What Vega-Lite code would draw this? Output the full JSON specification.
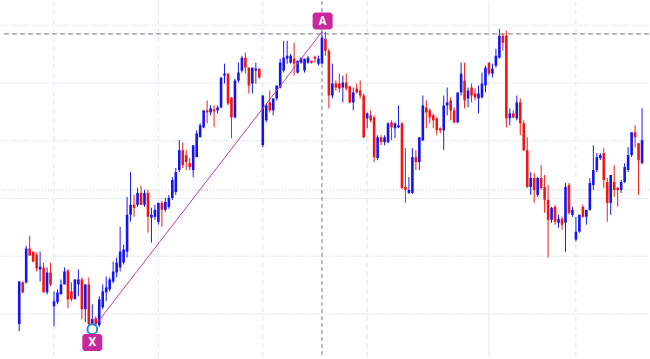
{
  "$schema": "https://vega.github.io/schema/vega-lite/v6.json",
  "width": 650,
  "height": 359,
  "padding": 0,
  "autosize": {"type": "fit", "contains": "padding"},
  "background": "#ffffff",
  "config": {"view": {"stroke": null}, "scale": {"continuousPadding": 0}},
  "datasets": {
    "candles": [
      {"i":0,"o":35,"h":78,"l":28,"c":78},{"i":1,"o":77,"h":78,"l":66,"c":67},{"i":2,"o":77,"h":114,"l":76,"c":111},{"i":3,"o":111,"h":124,"l":104,"c":104},
      {"i":4,"o":108,"h":108,"l":97,"c":98},{"i":5,"o":105,"h":107,"l":88,"c":91},{"i":6,"o":90,"h":108,"l":78,"c":93},{"i":7,"o":92,"h":97,"l":67,"c":67},
      {"i":8,"o":67,"h":92,"l":65,"c":87},{"i":9,"o":87,"h":97,"l":73,"c":75},{"i":10,"o":53,"h":68,"l":33,"c":58},{"i":11,"o":57,"h":70,"l":55,"c":67},
      {"i":12,"o":65,"h":80,"l":65,"c":75},{"i":13,"o":75,"h":92,"l":75,"c":88},{"i":14,"o":89,"h":90,"l":51,"c":60},{"i":15,"o":68,"h":77,"l":58,"c":60},
      {"i":16,"o":60,"h":80,"l":60,"c":80},{"i":17,"o":75,"h":90,"l":63,"c":80},{"i":18,"o":80,"h":82,"l":40,"c":50},{"i":19,"o":50,"h":75,"l":37,"c":75},
      {"i":20,"o":75,"h":82,"l":33,"c":35},{"i":21,"o":33,"h":55,"l":30,"c":40},{"i":22,"o":41,"h":43,"l":34,"c":35},{"i":23,"o":34,"h":63,"l":32,"c":60},
      {"i":24,"o":52,"h":75,"l":50,"c":68},{"i":25,"o":67,"h":83,"l":58,"c":72},{"i":26,"o":70,"h":82,"l":68,"c":80},{"i":27,"o":78,"h":98,"l":76,"c":88},
      {"i":28,"o":87,"h":102,"l":82,"c":97},{"i":29,"o":92,"h":133,"l":88,"c":108},{"i":30,"o":97,"h":115,"l":95,"c":110},{"i":31,"o":108,"h":163,"l":102,"c":145},
      {"i":32,"o":145,"h":188,"l":138,"c":155},{"i":33,"o":155,"h":165,"l":143,"c":152},{"i":34,"o":155,"h":172,"l":153,"c":167},{"i":35,"o":167,"h":174,"l":155,"c":155},
      {"i":36,"o":155,"h":170,"l":153,"c":167},{"i":37,"o":167,"h":170,"l":127,"c":143},{"i":38,"o":142,"h":152,"l":117,"c":145},{"i":39,"o":143,"h":155,"l":140,"c":150},
      {"i":40,"o":138,"h":157,"l":135,"c":157},{"i":41,"o":157,"h":159,"l":133,"c":150},{"i":42,"o":150,"h":162,"l":148,"c":158},{"i":43,"o":153,"h":165,"l":151,"c":162},
      {"i":44,"o":162,"h":183,"l":160,"c":180},{"i":45,"o":168,"h":192,"l":165,"c":188},{"i":46,"o":190,"h":220,"l":188,"c":210},{"i":47,"o":210,"h":218,"l":192,"c":195},
      {"i":48,"o":205,"h":210,"l":190,"c":198},{"i":49,"o":197,"h":202,"l":190,"c":193},{"i":50,"o":190,"h":215,"l":183,"c":215},{"i":51,"o":203,"h":230,"l":203,"c":227},
      {"i":52,"o":223,"h":237,"l":223,"c":235},{"i":53,"o":233,"h":250,"l":232,"c":250},{"i":54,"o":250,"h":260,"l":237,"c":248},{"i":55,"o":248,"h":255,"l":245,"c":252},
      {"i":56,"o":251,"h":255,"l":233,"c":249},{"i":57,"o":250,"h":255,"l":247,"c":253},{"i":58,"o":253,"h":283,"l":252,"c":283},{"i":59,"o":285,"h":297,"l":277,"c":287},
      {"i":60,"o":287,"h":287,"l":255,"c":257},{"i":61,"o":263,"h":263,"l":222,"c":243},{"i":62,"o":243,"h":282,"l":242,"c":280},{"i":63,"o":280,"h":298,"l":278,"c":288},
      {"i":64,"o":290,"h":305,"l":288,"c":303},{"i":65,"o":303,"h":308,"l":287,"c":293},{"i":66,"o":293,"h":293,"l":267,"c":275},{"i":67,"o":277,"h":293,"l":267,"c":293},
      {"i":68,"o":290,"h":298,"l":277,"c":292},{"i":69,"o":292,"h":292,"l":282,"c":283},{"i":70,"o":215,"h":265,"l":213,"c":265},{"i":71,"o":240,"h":257,"l":238,"c":255},
      {"i":72,"o":258,"h":270,"l":248,"c":250},{"i":73,"o":250,"h":262,"l":245,"c":262},{"i":74,"o":262,"h":275,"l":260,"c":275},{"i":75,"o":273,"h":302,"l":272,"c":298},
      {"i":76,"o":290,"h":320,"l":288,"c":303},{"i":77,"o":302,"h":320,"l":297,"c":305},{"i":78,"o":298,"h":307,"l":297,"c":305},{"i":79,"o":302,"h":318,"l":285,"c":297},
      {"i":80,"o":288,"h":300,"l":287,"c":300},{"i":81,"o":298,"h":303,"l":297,"c":303},{"i":82,"o":290,"h":302,"l":288,"c":302},{"i":83,"o":298,"h":305,"l":297,"c":303},
      {"i":84,"o":300,"h":300,"l":297,"c":298},{"i":85,"o":304,"h":305,"l":298,"c":302},{"i":86,"o":297,"h":305,"l":295,"c":302},{"i":87,"o":297,"h":329,"l":297,"c":323},
      {"i":88,"o":322,"h":329,"l":305,"c":310},{"i":89,"o":310,"h":312,"l":252,"c":265},{"i":90,"o":265,"h":297,"l":262,"c":277},{"i":91,"o":277,"h":280,"l":270,"c":273},
      {"i":92,"o":277,"h":287,"l":268,"c":272},{"i":93,"o":273,"h":285,"l":258,"c":278},{"i":94,"o":278,"h":287,"l":270,"c":272},{"i":95,"o":274,"h":275,"l":257,"c":258},
      {"i":96,"o":258,"h":273,"l":250,"c":268},{"i":97,"o":272,"h":277,"l":267,"c":268},{"i":98,"o":270,"h":280,"l":262,"c":265},{"i":99,"o":265,"h":267,"l":222,"c":223},
      {"i":100,"o":242,"h":248,"l":232,"c":247},{"i":101,"o":245,"h":250,"l":238,"c":240},{"i":102,"o":243,"h":245,"l":198,"c":203},{"i":103,"o":202,"h":225,"l":200,"c":223},
      {"i":104,"o":223,"h":225,"l":215,"c":218},{"i":105,"o":218,"h":225,"l":215,"c":223},{"i":106,"o":218,"h":238,"l":217,"c":237},{"i":107,"o":238,"h":240,"l":220,"c":233},
      {"i":108,"o":232,"h":238,"l":222,"c":237},{"i":109,"o":233,"h":255,"l":232,"c":235},{"i":110,"o":237,"h":238,"l":171,"c":172},{"i":111,"o":173,"h":212,"l":157,"c":170},
      {"i":112,"o":167,"h":183,"l":166,"c":170},{"i":113,"o":167,"h":212,"l":166,"c":203},{"i":114,"o":203,"h":210,"l":190,"c":198},{"i":115,"o":198,"h":223,"l":190,"c":223},
      {"i":116,"o":220,"h":265,"l":219,"c":255},{"i":117,"o":253,"h":260,"l":232,"c":248},{"i":118,"o":250,"h":252,"l":237,"c":243},{"i":119,"o":245,"h":247,"l":232,"c":240},
      {"i":120,"o":242,"h":243,"l":225,"c":230},{"i":121,"o":232,"h":233,"l":227,"c":230},{"i":122,"o":230,"h":265,"l":210,"c":255},{"i":123,"o":255,"h":273,"l":245,"c":258},
      {"i":124,"o":260,"h":263,"l":240,"c":250},{"i":125,"o":250,"h":253,"l":237,"c":238},{"i":126,"o":238,"h":268,"l":237,"c":268},{"i":127,"o":268,"h":298,"l":265,"c":287},
      {"i":128,"o":280,"h":298,"l":252,"c":260},{"i":129,"o":262,"h":273,"l":253,"c":270},{"i":130,"o":273,"h":277,"l":258,"c":265},{"i":131,"o":267,"h":272,"l":260,"c":263},
      {"i":132,"o":262,"h":275,"l":247,"c":267},{"i":133,"o":263,"h":288,"l":262,"c":277},{"i":134,"o":275,"h":295,"l":268,"c":293},{"i":135,"o":298,"h":298,"l":285,"c":287},
      {"i":136,"o":287,"h":297,"l":283,"c":292},{"i":137,"o":295,"h":312,"l":293,"c":305},{"i":138,"o":303,"h":332,"l":302,"c":325},{"i":139,"o":325,"h":327,"l":310,"c":318},
      {"i":140,"o":325,"h":330,"l":233,"c":242},{"i":141,"o":242,"h":252,"l":235,"c":247},{"i":142,"o":247,"h":250,"l":242,"c":243},{"i":143,"o":242,"h":265,"l":240,"c":258},
      {"i":144,"o":258,"h":262,"l":225,"c":237},{"i":145,"o":237,"h":240,"l":209,"c":210},{"i":146,"o":210,"h":223,"l":172,"c":173},{"i":147,"o":173,"h":188,"l":165,"c":182},
      {"i":148,"o":182,"h":187,"l":157,"c":170},{"i":149,"o":165,"h":183,"l":163,"c":182},{"i":150,"o":182,"h":195,"l":170,"c":172},{"i":151,"o":173,"h":185,"l":147,"c":160},
      {"i":152,"o":160,"h":175,"l":102,"c":140},{"i":153,"o":140,"h":153,"l":137,"c":152},{"i":154,"o":153,"h":155,"l":135,"c":138},{"i":155,"o":137,"h":145,"l":132,"c":141},
      {"i":156,"o":141,"h":143,"l":130,"c":135},{"i":157,"o":137,"h":177,"l":108,"c":173},{"i":158,"o":175,"h":177,"l":145,"c":147},{"i":159,"o":145,"h":153,"l":143,"c":150},
      {"i":160,"o":120,"h":143,"l":118,"c":128},{"i":161,"o":128,"h":145,"l":127,"c":145},{"i":162,"o":153,"h":155,"l":142,"c":143},{"i":163,"o":143,"h":150,"l":135,"c":150},
      {"i":164,"o":150,"h":182,"l":149,"c":177},{"i":165,"o":175,"h":215,"l":170,"c":190},{"i":166,"o":190,"h":207,"l":188,"c":203},{"i":167,"o":202,"h":207,"l":200,"c":205},
      {"i":168,"o":207,"h":212,"l":172,"c":180},{"i":169,"o":178,"h":182,"l":138,"c":157},{"i":170,"o":157,"h":185,"l":145,"c":185},{"i":171,"o":178,"h":195,"l":163,"c":170},
      {"i":172,"o":172,"h":173,"l":153,"c":170},{"i":173,"o":170,"h":180,"l":167,"c":178},{"i":174,"o":178,"h":197,"l":177,"c":193},{"i":175,"o":190,"h":213,"l":188,"c":205},
      {"i":176,"o":205,"h":228,"l":203,"c":228},{"i":177,"o":228,"h":235,"l":213,"c":223},{"i":178,"o":217,"h":217,"l":165,"c":200},{"i":179,"o":197,"h":252,"l":196,"c":220}
    ],
    "hgrid": [{"p":335.7},{"p":277.6},{"p":219.5},{"p":161.4},{"p":103.4},{"p":45.3}],
    "vgrid": [{"i":10},{"i":40},{"i":70},{"i":100},{"i":160}],
    "session": [{"i":135}],
    "dotted": [{"p":170}],
    "levelA": [{"p":327}],
    "vertA": [{"i":87}],
    "xa": [{"pt":"X","i":21,"p":30},{"pt":"A","i":87,"p":329}],
    "xpoint": [{"pt":"X","i":21,"p":30}],
    "labels": [{"pt":"X","i":21,"p":16.7},{"pt":"A","i":87.2,"p":340}]
  },
  "layer": [
    {
      "data": {"name": "hgrid"},
      "mark": {"type": "rule", "color": "#e6edf4", "strokeWidth": 1, "strokeDash": [18, 2]},
      "encoding": {"y": {"field": "p", "type": "quantitative", "scale": {"domain": [1, 360], "nice": false, "zero": false, "padding": 0}, "axis": null}}
    },
    {
      "data": {"name": "vgrid"},
      "mark": {"type": "rule", "color": "#dde6ef", "strokeWidth": 1, "strokeDash": [5, 4]},
      "encoding": {"x": {"field": "i", "type": "quantitative", "scale": {"domain": [-5.24, 181], "nice": false, "zero": false, "padding": 0}, "axis": null}}
    },
    {
      "data": {"name": "session"},
      "mark": {"type": "rule", "color": "#e3ebf3", "strokeWidth": 1},
      "encoding": {"x": {"field": "i", "type": "quantitative", "axis": null}}
    },
    {
      "data": {"name": "dotted"},
      "mark": {"type": "rule", "color": "#c4c9d1", "strokeWidth": 1, "strokeDash": [1, 2]},
      "encoding": {"y": {"field": "p", "type": "quantitative", "axis": null}}
    },
    {
      "data": {"name": "levelA"},
      "mark": {"type": "rule", "color": "#8e959f", "strokeWidth": 1.2, "strokeDash": [5, 3]},
      "encoding": {"y": {"field": "p", "type": "quantitative", "axis": null}}
    },
    {
      "data": {"name": "vertA"},
      "mark": {"type": "rule", "color": "#8e959f", "strokeWidth": 1.2, "strokeDash": [4, 3]},
      "encoding": {"x": {"field": "i", "type": "quantitative", "axis": null}}
    },
    {
      "data": {"name": "candles"},
      "mark": {"type": "rule", "strokeWidth": 1},
      "encoding": {
        "x": {"field": "i", "type": "quantitative", "axis": null},
        "y": {"field": "l", "type": "quantitative", "axis": null},
        "y2": {"field": "h"},
        "color": {"condition": {"test": "datum.c >= datum.o", "value": "#1a1af5"}, "value": "#f51a1a"}
      }
    },
    {
      "data": {"name": "candles"},
      "mark": {"type": "bar", "width": 2.6},
      "encoding": {
        "x": {"field": "i", "type": "quantitative", "axis": null},
        "y": {"field": "o", "type": "quantitative", "axis": null},
        "y2": {"field": "c"},
        "color": {"condition": {"test": "datum.c >= datum.o", "value": "#1414f2"}, "value": "#f51414"}
      }
    },
    {
      "data": {"name": "xa"},
      "mark": {"type": "line", "color": "#c43aa8", "strokeWidth": 1},
      "encoding": {
        "x": {"field": "i", "type": "quantitative", "axis": null},
        "y": {"field": "p", "type": "quantitative", "axis": null}
      }
    },
    {
      "data": {"name": "xpoint"},
      "mark": {"type": "point", "shape": "circle", "size": 95, "filled": false, "fill": "#ffffff", "fillOpacity": 1, "stroke": "#1e88e5", "strokeWidth": 2, "opacity": 1},
      "encoding": {
        "x": {"field": "i", "type": "quantitative", "axis": null},
        "y": {"field": "p", "type": "quantitative", "axis": null}
      }
    },
    {
      "data": {"name": "labels"},
      "mark": {"type": "rect", "width": 20, "height": 17, "cornerRadius": 3, "color": "#c8289b"},
      "encoding": {
        "x": {"field": "i", "type": "quantitative", "axis": null},
        "y": {"field": "p", "type": "quantitative", "axis": null}
      }
    },
    {
      "data": {"name": "labels"},
      "mark": {"type": "text", "color": "#ffffff", "font": "Roboto", "fontWeight": "bold", "fontSize": 12, "align": "center", "baseline": "middle"},
      "encoding": {
        "x": {"field": "i", "type": "quantitative", "axis": null},
        "y": {"field": "p", "type": "quantitative", "axis": null},
        "text": {"field": "pt"}
      }
    }
  ]
}
